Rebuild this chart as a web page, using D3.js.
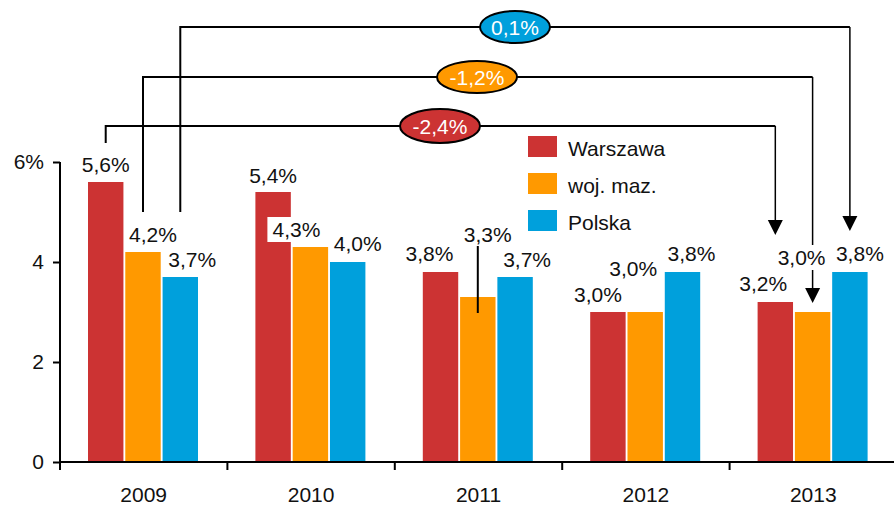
<!DOCTYPE html>
<html>
<head>
<meta charset="utf-8">
<script src="https://cdn.jsdelivr.net/npm/d3@7"></script>
<style>
  body { margin: 0; background: #fff; }
  svg { font-family: Arial, "Liberation Sans", sans-serif; }
</style>
</head>
<body>
<svg id="chart" width="894" height="505"></svg>
<script>
// data
var years = ["2009", "2010", "2011", "2012", "2013"];
var seriesNames = ["Warszawa", "woj. maz.", "Polska"];
var warszawa = [5.6, 5.4, 3.8, 3.0, 3.2];
var wojMaz = [4.2, 4.3, 3.3, 3.0, 3.0];
var polska = [3.7, 4.0, 3.7, 3.8, 3.8];
var changes = ["-2,4%", "-1,2%", "0,1%"];
var yTicks = [0, 2, 4, 6];

var colors = ["#cc3333", "#ff9900", "#00a0dc"];
var values = [warszawa, wojMaz, polska];
var fontSize = "21px";

// label nudges [dx, dy] relative to bar centre / top (layout only)
var labelNudge = [
    [[0, -10], [0, -9], [-11, -11], [-10, -10], [-12, -11]],
    [[10, -10], [-14, -10], [10, -55], [-12, -36], [-11, -47]],
    [[12, -10], [10, -11], [12, -10], [9, -11], [10, -11]]
];
// labels that sit on a white box
var boxedLabels = [[1, 1], [1, 4]];

// bracket layout: level y, start-bottom y, arrow tip y, ellipse cx, rx, ry
var bracketLayout = [
    { level: 126, start: 143, tip: 235, cx: 440, rx: 40, ry: 17 },
    { level: 77, start: 212, tip: 303, cx: 477, rx: 40, ry: 16 },
    { level: 27, start: 212, tip: 231, cx: 515, rx: 35, ry: 16 }
];

var svg = d3.select("#chart");

var x = d3.scaleBand()
    .domain(years)
    .range([60, 897]);
var xs = d3.scaleBand()
    .domain(d3.range(3))
    .range([28, 138])
    .paddingInner(0.05);
var y = d3.scaleLinear()
    .domain([0, 6])
    .range([462, 162]);

function fmt(v) {
    return v.toFixed(1).replace(".", ",") + "%";
}
function barCx(s, i) {
    return x(years[i]) + xs(s) + xs.bandwidth() / 2;
}

// bars
values.forEach(function (vals, s) {
    svg.append("g").selectAll("rect")
        .data(vals)
        .enter().append("rect")
        .attr("x", function (d, i) { return x(years[i]) + xs(s); })
        .attr("y", function (d) { return y(d); })
        .attr("width", xs.bandwidth())
        .attr("height", function (d) { return y(0) - y(d); })
        .attr("fill", colors[s]);
});

// stray leader line under the 2011 woj. maz. label
svg.append("line")
    .attr("x1", barCx(1, 2)).attr("x2", barCx(1, 2))
    .attr("y1", y(wojMaz[2]) - 51).attr("y2", y(wojMaz[2]) + 16)
    .attr("stroke", "#000").attr("stroke-width", 2);

// brackets with arrows
var brackets = svg.append("g");
bracketLayout.forEach(function (b, s) {
    var x0 = barCx(s, 0), x1 = barCx(s, 4);
    brackets.append("path")
        .attr("d", "M" + x0 + "," + b.start + "V" + b.level + "H" + x1)
        .attr("fill", "none").attr("stroke", "#000").attr("stroke-width", 2);
    brackets.append("line")
        .attr("x1", x1).attr("x2", x1)
        .attr("y1", b.level).attr("y2", b.tip - 14)
        .attr("stroke", "#000").attr("stroke-width", 1.5);
    brackets.append("path")
        .attr("d", "M" + (x1 - 7.5) + "," + (b.tip - 15) + "L" + (x1 + 7.5) + "," + (b.tip - 15) + "L" + x1 + "," + b.tip + "Z")
        .attr("fill", "#000");
    brackets.append("ellipse")
        .attr("cx", b.cx).attr("cy", b.level)
        .attr("rx", b.rx).attr("ry", b.ry)
        .attr("fill", colors[s]).attr("stroke", "#000").attr("stroke-width", 2);
    brackets.append("text")
        .attr("x", b.cx).attr("y", b.level + 7.5)
        .attr("text-anchor", "middle")
        .attr("font-size", fontSize)
        .attr("fill", "#fff")
        .text(changes[s]);
});

// value labels
var labels = svg.append("g");
values.forEach(function (vals, s) {
    vals.forEach(function (v, i) {
        var n = labelNudge[s][i];
        var lx = barCx(s, i) + n[0], ly = y(v) + n[1];
        var boxed = boxedLabels.some(function (b) { return b[0] === s && b[1] === i; });
        if (boxed) {
            labels.append("rect")
                .attr("x", lx - 29).attr("y", ly - 20)
                .attr("width", 58).attr("height", 25)
                .attr("fill", "#fff");
        }
        labels.append("text")
            .attr("x", lx).attr("y", ly)
            .attr("text-anchor", "middle")
            .attr("font-size", fontSize)
            .attr("fill", "#111")
            .text(fmt(v));
    });
});

// y axis
var yAxis = svg.append("g")
    .attr("transform", "translate(60,0)")
    .call(d3.axisLeft(y).tickValues(yTicks).tickSize(7).tickPadding(9)
        .tickFormat(function (d) { return d === 6 ? "6%" : d; }));
yAxis.select(".domain").attr("stroke", "#000").attr("stroke-width", 2).attr("d", "M0," + y(6) + "V" + y(0));
yAxis.selectAll(".tick line").attr("stroke", "#000").attr("stroke-width", 2);
yAxis.selectAll(".tick text").attr("font-size", fontSize).attr("font-family", "Arial, 'Liberation Sans', sans-serif").attr("fill", "#111");

// x axis
var xAxisG = svg.append("g");
xAxisG.append("line")
    .attr("x1", 60).attr("x2", 894)
    .attr("y1", y(0)).attr("y2", y(0))
    .attr("stroke", "#000").attr("stroke-width", 2);
xAxisG.selectAll(".xtick")
    .data(years)
    .enter().append("line")
    .attr("x1", function (d) { return x(d); })
    .attr("x2", function (d) { return x(d); })
    .attr("y1", y(0)).attr("y2", y(0) + 8)
    .attr("stroke", "#000").attr("stroke-width", 2);
xAxisG.selectAll(".xlab")
    .data(years)
    .enter().append("text")
    .attr("x", function (d) { return x(d) + x.bandwidth() / 2; })
    .attr("y", 502)
    .attr("text-anchor", "middle")
    .attr("font-size", fontSize)
    .attr("fill", "#111")
    .text(function (d) { return d; });

// legend
var legend = svg.append("g").attr("transform", "translate(528,136)");
seriesNames.forEach(function (name, s) {
    legend.append("rect")
        .attr("x", 0).attr("y", s * 37)
        .attr("width", 29).attr("height", 21)
        .attr("fill", colors[s]);
    legend.append("text")
        .attr("x", 40).attr("y", s * 37 + 20)
        .attr("font-size", fontSize)
        .attr("fill", "#111")
        .text(name);
});
</script>
</body>
</html>
